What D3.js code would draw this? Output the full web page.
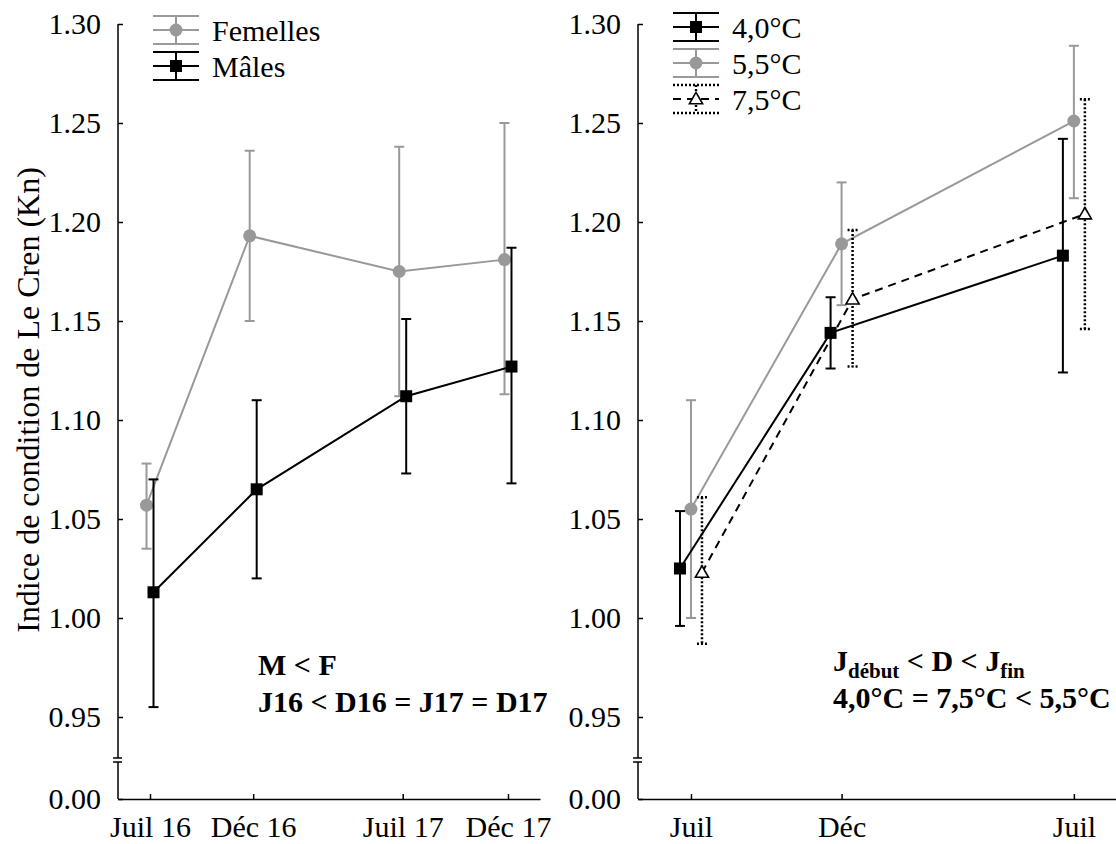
<!DOCTYPE html>
<html>
<head>
<meta charset="utf-8">
<script src="https://cdn.jsdelivr.net/npm/d3@7"></script>
<style>
  html, body { margin: 0; padding: 0; background: #fff; }
  svg { display: block; }
  text { font-family: "Liberation Serif", "Times New Roman", serif; fill: #000; }
</style>
</head>
<body>
<script>
// ---------- DATA ----------
const leftLabels = ["Juil 16", "Déc 16", "Juil 17", "Déc 17"];
const leftMonths = [0, 4.9, 12, 17];
const femVals = [1.057, 1.193, 1.175, 1.181];
const femLo   = [1.035, 1.150, 1.112, 1.113];
const femHi   = [1.078, 1.236, 1.238, 1.250];
const malVals = [1.013, 1.065, 1.112, 1.127];
const malLo   = [0.955, 1.020, 1.073, 1.068];
const malHi   = [1.070, 1.110, 1.151, 1.187];

const rightLabels = ["Juil", "Déc", "Juil"];
const rightMonths = [0, 4.72, 12];
const t40Vals = [1.025, 1.144, 1.183];
const t40Lo   = [0.996, 1.126, 1.124];
const t40Hi   = [1.054, 1.162, 1.242];
const t55Vals = [1.055, 1.189, 1.251];
const t55Lo   = [1.000, 1.158, 1.212];
const t55Hi   = [1.110, 1.220, 1.289];
const t75Vals = [1.023, 1.161, 1.204];
const t75Lo   = [0.987, 1.127, 1.146];
const t75Hi   = [1.061, 1.196, 1.262];

const yTicks = [0.95, 1.00, 1.05, 1.10, 1.15, 1.20, 1.25, 1.30];
const yLowTicks = [0];

// ---------- LAYOUT ----------
const W = 1116, H = 844;
const GRAY = "#999999";
const FS = 30;
const svg = d3.select("body").append("svg").attr("width", W).attr("height", H);

const yTop = d3.scaleLinear().domain([0.95, 1.30]).range([717, 24]);
const yLow = d3.scaleLinear().domain([0, 0.02]).range([799, 760]);
const breakTop = 758, breakBot = 762, axisY = 799;

function drawAxes(x0, x1, xScale, months, labels) {
  const g = svg.append("g");
  g.append("line").attr("x1", x0).attr("x2", x0).attr("y1", yTop(1.30)).attr("y2", breakTop)
    .attr("stroke", "#000").attr("stroke-width", 1.5);
  g.append("line").attr("x1", x0).attr("x2", x0).attr("y1", breakBot).attr("y2", axisY)
    .attr("stroke", "#000").attr("stroke-width", 1.5);
  [breakTop, breakBot].forEach(yy => {
    g.append("line").attr("x1", x0 - 5).attr("x2", x0 + 4).attr("y1", yy).attr("y2", yy)
      .attr("stroke", "#000").attr("stroke-width", 1.5);
  });
  const ay = g.append("g").attr("transform", `translate(${x0},0)`)
    .call(d3.axisLeft(yTop).tickValues(yTicks).tickFormat(d3.format(".2f"))
      .tickSizeInner(-5).tickSizeOuter(0).tickPadding(17));
  const ay2 = g.append("g").attr("transform", `translate(${x0},0)`)
    .call(d3.axisLeft(yLow).tickValues(yLowTicks).tickFormat(d3.format(".2f"))
      .tickSizeInner(-5).tickSizeOuter(0).tickPadding(17));
  [ay, ay2].forEach(a => {
    a.select(".domain").remove();
    a.selectAll("line").attr("stroke-width", 1.5);
    a.selectAll("text").attr("font-size", FS).attr("font-family", "Liberation Serif");
  });
  const ax = g.append("g").attr("transform", `translate(0,${axisY})`)
    .call(d3.axisBottom(xScale).tickValues(months).tickFormat((d, i) => labels[i])
      .tickSizeInner(-5).tickSizeOuter(0).tickPadding(17));
  ax.select(".domain").attr("stroke-width", 1.5);
  ax.selectAll("line").attr("stroke-width", 1.5);
  ax.selectAll("text").attr("font-size", FS).attr("font-family", "Liberation Serif");
}

function marker(g, type, cx, cy, color) {
  if (type === "circle") {
    g.append("circle").attr("cx", cx).attr("cy", cy).attr("r", 6.5).attr("fill", color);
  } else if (type === "square") {
    g.append("rect").attr("x", cx - 6).attr("y", cy - 6).attr("width", 12).attr("height", 12).attr("fill", color);
  } else if (type === "triangle") {
    g.append("path").attr("d", d3.symbol().type(d3.symbolTriangle).size(75)())
      .attr("transform", `translate(${cx},${cy + 1})`)
      .attr("fill", "#fff").attr("stroke", color).attr("stroke-width", 1.6);
  }
}

function drawSeries(xScale, months, vals, lo, hi, s) {
  const g = svg.append("g");
  const pts = months.map((m, i) => [xScale(m) + s.dx, yTop(vals[i])]);
  g.append("path").attr("d", d3.line()(pts)).attr("fill", "none")
    .attr("stroke", s.color).attr("stroke-width", 2)
    .attr("stroke-dasharray", s.dash || null);
  months.forEach((m, i) => {
    const cx = xScale(m) + s.dx;
    const eb = g.append("g").attr("stroke", s.color).attr("stroke-width", s.ebWidth || 2)
      .attr("stroke-dasharray", s.ebDash || null);
    eb.append("line").attr("x1", cx).attr("x2", cx).attr("y1", yTop(hi[i])).attr("y2", yTop(lo[i]));
    [hi[i], lo[i]].forEach(v => {
      eb.append("line").attr("x1", cx - 5).attr("x2", cx + 5).attr("y1", yTop(v)).attr("y2", yTop(v));
    });
  });
  months.forEach((m, i) => marker(g, s.marker, xScale(m) + s.dx, yTop(vals[i]), s.color));
}

function legendItem(x, y, s, label) {
  const g = svg.append("g");
  const w = 46, h = 14;
  const eb = g.append("g").attr("stroke", s.color).attr("stroke-width", s.ebWidth || 2)
    .attr("stroke-dasharray", s.ebDash || null);
  eb.append("line").attr("x1", x).attr("x2", x + w).attr("y1", y - h).attr("y2", y - h);
  eb.append("line").attr("x1", x).attr("x2", x + w).attr("y1", y + h).attr("y2", y + h);
  eb.append("line").attr("x1", x + w / 2).attr("x2", x + w / 2).attr("y1", y - h).attr("y2", y + h);
  g.append("line").attr("x1", x).attr("x2", x + w).attr("y1", y).attr("y2", y)
    .attr("stroke", s.color).attr("stroke-width", 2).attr("stroke-dasharray", s.dash || null);
  marker(g, s.marker, x + w / 2, y, s.color);
  g.append("text").attr("x", x + w + 13).attr("y", y).attr("dy", "0.35em")
    .attr("font-size", FS).text(label);
}

// ---------- LEFT PANEL ----------
const xL = d3.scaleLinear().domain([-1.52, 18.52]).range([118, 540]);
drawAxes(118, 540, xL, leftMonths, leftLabels);
const femStyle = { color: GRAY, marker: "circle", dx: -3.5 };
const malStyle = { color: "#000", marker: "square", dx: 3.5 };
drawSeries(xL, leftMonths, femVals, femLo, femHi, femStyle);
drawSeries(xL, leftMonths, malVals, malLo, malHi, malStyle);
legendItem(153, 30, femStyle, "Femelles");
legendItem(153, 66, malStyle, "Mâles");

svg.append("text").attr("x", 258).attr("y", 675).attr("font-size", FS).attr("font-weight", "bold").text("M < F");
svg.append("text").attr("x", 258).attr("y", 712).attr("font-size", FS).attr("font-weight", "bold").text("J16 < D16 = J17 = D17");

// ---------- RIGHT PANEL ----------
const xR = d3.scaleLinear().domain([-1.66, 13.32]).range([638, 1116]);
drawAxes(638, 1116, xR, rightMonths, rightLabels);
const s55 = { color: GRAY, marker: "circle", dx: 0 };
const s75 = { color: "#000", marker: "triangle", dx: 11, dash: "8,6", ebDash: "2,2", ebWidth: 2.5 };
const s40 = { color: "#000", marker: "square", dx: -11 };
drawSeries(xR, rightMonths, t55Vals, t55Lo, t55Hi, s55);
drawSeries(xR, rightMonths, t75Vals, t75Lo, t75Hi, s75);
drawSeries(xR, rightMonths, t40Vals, t40Lo, t40Hi, s40);
legendItem(673, 27, s40, "4,0°C");
legendItem(673, 63, s55, "5,5°C");
legendItem(673, 99, s75, "7,5°C");

const a1 = svg.append("text").attr("x", 833).attr("y", 671).attr("font-size", FS).attr("font-weight", "bold");
a1.append("tspan").text("J");
a1.append("tspan").attr("font-size", 21).attr("dy", 7).text("début");
a1.append("tspan").attr("dy", -7).text(" < D < J");
a1.append("tspan").attr("font-size", 21).attr("dy", 7).text("fin");
svg.append("text").attr("x", 833).attr("y", 708).attr("font-size", FS).attr("font-weight", "bold").text("4,0°C = 7,5°C < 5,5°C");

// ---------- Y TITLE ----------
svg.append("text").attr("transform", "translate(39,400) rotate(-90)")
  .attr("text-anchor", "middle").attr("font-size", 32)
  .text("Indice de condition de Le Cren (Kn)");
</script>
</body>
</html>
